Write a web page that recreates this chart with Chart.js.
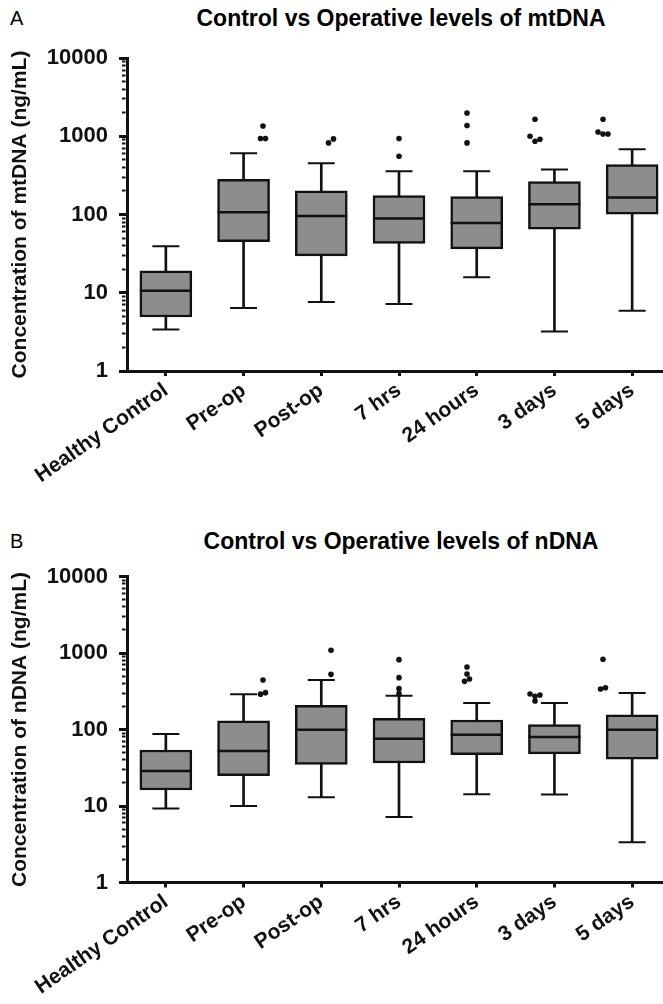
<!DOCTYPE html>
<html><head><meta charset="utf-8">
<script src="https://cdn.jsdelivr.net/npm/chart.js@4.4.1/dist/chart.umd.min.js"></script>
<style>
html,body{margin:0;padding:0;background:#fff;}
#wrap{position:relative;width:663px;height:1004px;overflow:hidden;background:#fff;font-family:'Liberation Sans',Arial,sans-serif;}
.letter{position:absolute;left:10px;font-size:20px;color:#000;line-height:24px;}
.title{position:absolute;left:131px;width:540px;text-align:center;font-weight:bold;font-size:23px;line-height:26px;color:#000;white-space:nowrap;}
canvas{position:absolute;left:0;}
</style></head><body>
<div id="wrap">
 <div class="letter" style="top:6px">A</div>
 <div class="title" style="top:5px">Control vs Operative levels of mtDNA</div>
 <canvas id="cA" width="671" height="502" style="top:0"></canvas>
 <div class="letter" style="top:529px">B</div>
 <div class="title" style="top:528px">Control vs Operative levels of nDNA</div>
 <canvas id="cB" width="671" height="502" style="top:502px"></canvas>
</div>
<script>
const FONT = "'Liberation Sans', Arial, sans-serif";
const categories = ['Healthy Control', 'Pre-op', 'Post-op', '7 hrs', '24 hours', '3 days', '5 days'];
const yMajorTicks = [1, 10, 100, 1000, 10000];

// Panel A: mtDNA (ng/mL)
const mtMin = [3.4, 6.4, 7.6, 7.2, 15.8, 3.2, 5.9];
const mtQ1 = [4.9, 45, 29.6, 42.6, 36.4, 65, 101];
const mtMedian = [10.6, 107, 96, 89, 78, 135, 165];
const mtQ3 = [19, 282, 200, 175, 169, 264, 435];
const mtMax = [39.4, 607, 452, 357, 357, 375, 682];
const mtOutliers = [[], [1354, 935, 935], [822, 925], [935, 556], [1986, 1371, 822], [1649, 1000, 863, 916], [1649, 1135, 1070, 1070]];

// Panel B: nDNA (ng/mL)
const nMin = [9.3, 10, 13, 7.2, 14.2, 14.1, 3.35];
const nQ1 = [16.2, 24.9, 35, 36.5, 46.9, 47.9, 40.8];
const nMedian = [28.7, 52.4, 99.5, 75.8, 85.5, 79.8, 99.5];
const nQ3 = [54, 130, 207, 140, 133, 116, 155];
const nMax = [87.3, 288, 444, 277, 222, 222, 300];
const nOutliers = [[], [444, 290, 303], [1085, 526], [818, 476, 342, 294], [656, 531, 426, 457], [291, 272, 282, 236], [827, 338, 352]];

// Spread near-coincident outliers side by side (as the original software does)
function outlierPoints(groups) {
  const pts = [];
  groups.forEach((vals, ci) => {
    const items = vals.map((v, k) => ({v, k})).sort((a, b) => a.v - b.v);
    let cluster = [];
    const flush = () => {
      cluster.sort((a, b) => a.k - b.k);
      const n = cluster.length;
      cluster.forEach((it, j) => pts.push({x: ci + (j - (n - 1) / 2) * 0.073, y: it.v}));
      cluster = [];
    };
    items.forEach(it => {
      if (cluster.length && Math.log10(it.v) - Math.log10(cluster[cluster.length - 1].v) >= 0.058) flush();
      cluster.push(it);
    });
    if (cluster.length) flush();
  });
  return pts;
}

const isMajor = v => Math.abs(Math.log10(v) - Math.round(Math.log10(v))) < 1e-9;
const INK = '#111';

function makeChart(id, yTitle, mins, q1s, meds, q3s, maxs, outs, padTop, xHeight) {
  return new Chart(document.getElementById(id), {
    type: 'bar',
    data: {
      labels: categories,
      datasets: [
        {type: 'scatter', label: 'Outliers', data: outlierPoints(outs), xAxisID: 'x2', yAxisID: 'y',
         pointRadius: 2.8, pointHoverRadius: 2.8, pointBackgroundColor: INK, pointBorderWidth: 0, order: 1},
        {type: 'line', label: 'Median', data: meds, showLine: false, pointStyle: 'line',
         pointRadius: 26, pointHoverRadius: 26, pointBorderColor: INK, pointBorderWidth: 2.5, order: 2},
        {type: 'line', label: 'Max', data: maxs, showLine: false, pointStyle: 'line',
         pointRadius: 13.5, pointHoverRadius: 13.5, pointBorderColor: INK, pointBorderWidth: 2, order: 2},
        {type: 'line', label: 'Min', data: mins, showLine: false, pointStyle: 'line',
         pointRadius: 13.5, pointHoverRadius: 13.5, pointBorderColor: INK, pointBorderWidth: 2, order: 2},
        {type: 'bar', label: 'IQR', data: categories.map((_, i) => [q1s[i], q3s[i]]),
         backgroundColor: '#8d8d8d', borderColor: INK, borderWidth: 2.5, borderSkipped: false,
         barThickness: 52, grouped: false, order: 3},
        {type: 'bar', label: 'Range', data: categories.map((_, i) => [mins[i], maxs[i]]),
         backgroundColor: INK, borderWidth: 0, barThickness: 2, grouped: false, order: 4}
      ]
    },
    options: {
      responsive: false, animation: false, devicePixelRatio: 1, events: [],
      layout: {autoPadding: false, padding: {top: padTop, left: 0, right: 0, bottom: 0}},
      plugins: {legend: {display: false}, tooltip: {enabled: false}, title: {display: false}},
      scales: {
        x: {
          type: 'category', offset: true,
          grid: {drawOnChartArea: false, drawTicks: true, offset: false, tickLength: 5, tickWidth: 3, tickColor: INK},
          border: {display: true, width: 3, color: INK},
          ticks: {color: INK, font: {family: FONT, size: 21, weight: 'bold'}, minRotation: 35, maxRotation: 35, autoSkip: false, padding: 2},
          afterFit(s) { s.height = xHeight; s.paddingLeft = 0; s.paddingRight = 0; }
        },
        x2: {type: 'linear', display: false, min: -0.5, max: 6.5},
        y: {
          type: 'logarithmic', min: 1, max: 10000,
          grid: {
            drawOnChartArea: false, drawTicks: true, tickLength: 8, tickColor: INK,
            tickWidth: c => (c.tick && isMajor(c.tick.value)) ? 3 : 2,
            tickBorderDash: c => (c.tick && isMajor(c.tick.value)) ? [] : [0, 3, 3.5, 50]
          },
          border: {display: true, width: 3, color: INK},
          ticks: {autoSkip: false, color: INK, padding: 11, font: {family: FONT, size: 22, weight: 'bold'},
                  callback: v => isMajor(v) ? String(v) : ''},
          afterBuildTicks(s) {
            const t = [];
            yMajorTicks.forEach((m, i) => {
              t.push({value: m, major: true});
              if (i < yMajorTicks.length - 1) for (let k = 2; k < 10; k++) t.push({value: m * k, major: false});
            });
            s.ticks = t;
          },
          title: {display: true, text: yTitle, color: INK, font: {family: FONT, size: 21, weight: 'bold'}, padding: {top: 8, bottom: 0}},
          afterFit(s) { s.width = 127; }
        }
      }
    }
  });
}

makeChart('cA', 'Concentration of mtDNA (ng/mL)', mtMin, mtQ1, mtMedian, mtQ3, mtMax, mtOutliers, 58, 131);
makeChart('cB', 'Concentration of nDNA (ng/mL)', nMin, nQ1, nMedian, nQ3, nMax, nOutliers, 74.5, 121.5);
</script>
</body></html>
